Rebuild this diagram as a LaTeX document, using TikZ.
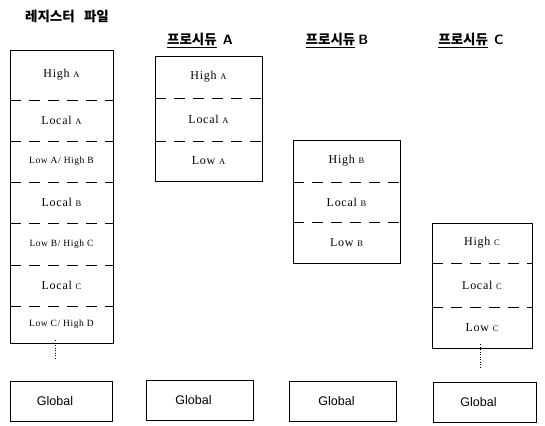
\documentclass[tikz,border=0pt]{standalone}
\usepackage{fontspec}
\newfontfamily\kfont{Noto Sans CJK KR}
\newfontfamily\gfont{Liberation Sans}
\newfontfamily\cellfont[LetterSpace=6]{Liberation Serif}
\newcommand{\smcap}[1]{{\fontsize{8.5}{10}\selectfont #1}}
\newcommand{\gtext}{\hspace*{-12pt}Global}
\begin{document}
\begin{tikzpicture}[x=1pt,y=-1pt,
  cell/.style={inner sep=0pt, outer sep=0pt, font=\cellfont\fontsize{12}{14}\selectfont},
  smallcell/.style={cell, font=\cellfont\fontsize{9.5}{11}\selectfont},
  box/.style={draw, line width=0.8pt},
  divider/.style={line width=0.8pt, dash pattern=on 11pt off 8pt},
  globalbox/.style={draw, line width=0.8pt, inner sep=0pt, minimum height=40pt, font=\gfont\fontsize{12.5}{15}\selectfont},
  title/.style={font=\kfont\bfseries\fontsize{13.5}{15}\selectfont, inner sep=1pt},
  link/.style={line width=0.8pt, dash pattern=on 1pt off 1.5pt}
]
\useasboundingbox (0,0) rectangle (545,425);

% titles
\node[title] (tr) at (67,16) {레지스터\ \ \ 파일};
\node[title] (ta) at (200,40) {\underline{프로시듀}\ \ {\sffamily A}};
\node[title] (tb) at (337,40) {\underline{프로시듀}\ {\sffamily B}};
\node[title] (tc) at (471,40) {\underline{프로시듀}\ \ {\sffamily C}};

% register file
\begin{scope}[every node/.append style={minimum width=103pt}]
\node[cell, minimum height=50pt] (r1) at (61.5,75) {High \smcap{A}};
\node[cell, minimum height=41pt] (r2) at (61.5,120.5) {Local \smcap{A}};
\node[smallcell, minimum height=41pt] (r3) at (61.5,161.5) {Low A/ High B};
\node[cell, minimum height=41pt] (r4) at (61.5,202.5) {Local \smcap{B}};
\node[smallcell, minimum height=42pt] (r5) at (61.5,244) {Low B/ High C};
\node[cell, minimum height=41pt] (r6) at (61.5,285.5) {Local \smcap{C}};
\node[smallcell, minimum height=37pt] (r7) at (61.5,324.5) {Low C/ High D};
\end{scope}
\draw[box] (r1.north west) rectangle (r7.south east);
\foreach \a in {r1,r2,r3,r4,r5,r6}
  \draw[divider] (\a.south west) -- (\a.south east);

% procedure A
\begin{scope}[every node/.append style={minimum width=107pt}]
\node[cell, minimum height=42pt] (a1) at (208.5,77) {High \smcap{A}};
\node[cell, minimum height=43pt] (a2) at (208.5,119.5) {Local \smcap{A}};
\node[cell, minimum height=40pt] (a3) at (208.5,161) {Low \smcap{A}};
\end{scope}
\draw[box] (a1.north west) rectangle (a3.south east);
\foreach \a in {a1,a2}
  \draw[divider] (\a.south west) -- (\a.south east);

% procedure B
\begin{scope}[every node/.append style={minimum width=107pt}]
\node[cell, minimum height=42pt] (b1) at (346.5,161) {High \smcap{B}};
\node[cell, minimum height=40pt] (b2) at (346.5,202) {Local \smcap{B}};
\node[cell, minimum height=41pt] (b3) at (346.5,242.5) {Low \smcap{B}};
\end{scope}
\draw[box] (b1.north west) rectangle (b3.south east);
\foreach \a in {b1,b2}
  \draw[divider] (\a.south west) -- (\a.south east);

% procedure C
\begin{scope}[every node/.append style={minimum width=100pt}]
\node[cell, minimum height=40pt] (c1) at (482,243) {High \smcap{C}};
\node[cell, minimum height=44pt] (c2) at (482,285) {Local \smcap{C}};
\node[cell, minimum height=41pt] (c3) at (482,327.5) {Low \smcap{C}};
\end{scope}
\draw[box] (c1.north west) rectangle (c3.south east);
\foreach \a in {c1,c2}
  \draw[divider] (\a.south west) -- (\a.south east);

% globals
\node[globalbox, minimum width=102pt] (g1) at (61,401) {\gtext};
\node[globalbox, minimum width=107pt] (g2) at (199.5,400.5) {\gtext};
\node[globalbox, minimum width=107pt] (g3) at (342.5,401) {\gtext};
\node[globalbox, minimum width=103pt] (g4) at (484.5,402) {\gtext};

% dotted continuations
\coordinate (d1) at (55,360);
\coordinate (d2) at (480,367);
\draw[link] ([yshift=3pt]r7.south -| d1) -- (d1);
\draw[link] ([yshift=4pt]c3.south -| d2) -- (d2);
\end{tikzpicture}
\end{document}
